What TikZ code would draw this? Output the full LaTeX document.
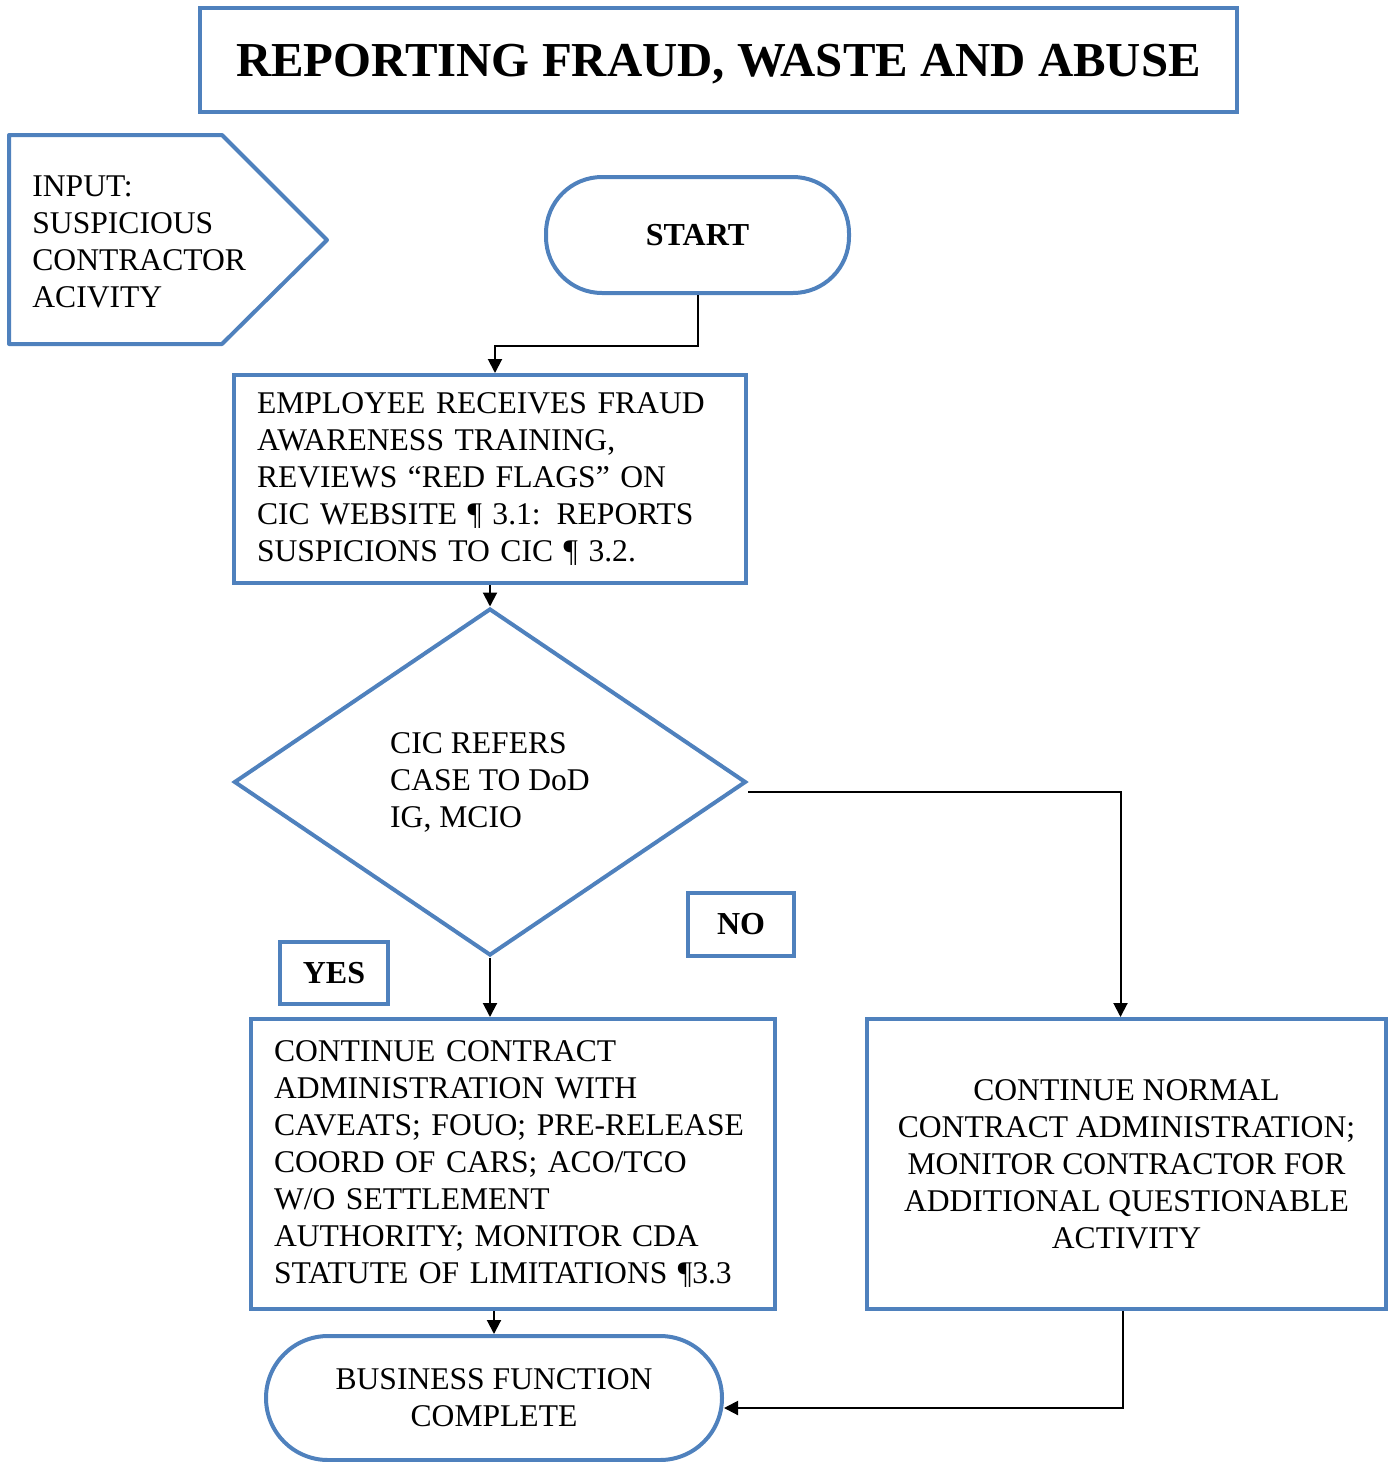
\documentclass[tikz,border=0pt]{standalone}
\usepackage{fontspec}
\setmainfont{Liberation Serif}
\usetikzlibrary{shapes.geometric,arrows.meta}
\definecolor{bord}{RGB}{79,129,189}
\begin{document}
\begin{tikzpicture}[x=0.5pt,y=-0.5pt,
  blk/.style={draw=bord,line width=2pt,rectangle,inner sep=0pt,font=\fontsize{15.8}{18.5}\selectfont},
  term/.style={blk,rounded corners=28pt},
  tag/.style={blk,font=\fontsize{16}{18.5}\selectfont\bfseries},
  arr/.style={draw=black,line width=1pt,-{Triangle[length=7pt,width=7pt]}}]
\useasboundingbox (0,0) rectangle (1388,1462);
% title
\node[blk,minimum width=518.5pt,minimum height=52pt,text depth=0pt,font=\fontsize{24.4}{28}\selectfont\bfseries] (title) at (718.5,60) {REPORTING FRAUD, WASTE AND ABUSE};
% input pentagon
\draw[draw=bord,line width=2pt,line join=round] (9,135) -- (222,135) -- (327,240) -- (222,344) -- (9,344) -- cycle;
\node[anchor=west,align=left,inner sep=0pt,font=\fontsize{15.8}{18.5}\selectfont] (input) at (32,242) {INPUT:\\SUSPICIOUS\\CONTRACTOR\\ACIVITY};
% start
\node[term,minimum width=151.5pt,minimum height=58pt,font=\fontsize{16}{18.5}\selectfont\bfseries] (start) at (697.5,235) {START};
% box1
\node[blk,align=left,text width=233pt,inner xsep=11.5pt,minimum height=104pt] (box1) at (490,479)
 {EMPLOYEE RECEIVES FRAUD\\AWARENESS TRAINING,\\REVIEWS “RED FLAGS” ON\\CIC WEBSITE ¶ 3.1: REPORTS\\SUSPICIONS TO CIC ¶ 3.2.};
% diamond
\node[blk,diamond,minimum width=256pt,minimum height=173.5pt,align=left] (dia) at (490,782)
 {CIC REFERS\\CASE TO DoD\\IG, MCIO};
% yes / no tags
\node[tag,minimum width=54pt,minimum height=31pt] (yes) at (334,973) {YES};
\node[tag,minimum width=53pt,minimum height=31.5pt] (no) at (741,924.5) {NO};
% yes branch box
\node[blk,align=left,text width=239pt,inner xsep=11.5pt,minimum height=145pt] (yesbox) at (513,1164)
 {CONTINUE CONTRACT\\ADMINISTRATION WITH\\CAVEATS; FOUO; PRE-RELEASE\\COORD OF CARS; ACO/TCO\\W/O SETTLEMENT\\AUTHORITY; MONITOR CDA\\STATUTE OF LIMITATIONS ¶3.3};
% no branch box
\node[blk,align=center,minimum width=259.5pt,minimum height=145pt] (nobox) at (1126.5,1164)
 {CONTINUE NORMAL\\CONTRACT ADMINISTRATION;\\MONITOR CONTRACTOR FOR\\ADDITIONAL QUESTIONABLE\\ACTIVITY};
% end
\node[term,minimum width=228pt,minimum height=62pt,rounded corners=31pt,align=center] (endn) at (494,1398)
 {BUSINESS FUNCTION\\COMPLETE};
% connectors
\draw[arr] (start.south) -- ++(0,51) -| ([xshift=2.5pt]box1.north);
\draw[arr] (box1.south) -- (dia.north);
\draw[arr] ([yshift=-5pt]dia.east) -| ([xshift=-3pt]nobox.north);
\draw[arr] (dia.south) -- (dia.south |- yesbox.north);
\draw[arr] (endn.north |- yesbox.south) -- (endn.north);
\draw[arr] ([xshift=-2pt]nobox.south) |- ([yshift=-5pt]endn.east);
\end{tikzpicture}
\end{document}
